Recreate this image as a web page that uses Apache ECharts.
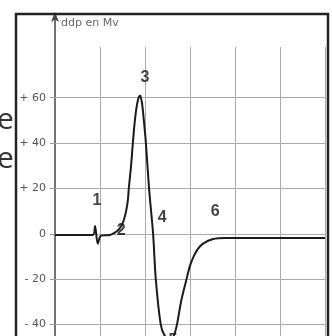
<!DOCTYPE html>
<html lang="fr">
<head>
    <meta charset="UTF-8">
    <title>Potentiel d'action</title>
    <style>
        html, body {
            margin: 0;
            padding: 0;
            background: #fff;
            overflow: hidden;
        }
        #chart {
            width: 332px;
            height: 370px;
        }
    </style>
    <script src="https://cdn.jsdelivr.net/npm/echarts@6/dist/echarts.min.js"></script>
</head>
<body>
    <div id="chart"></div>
    <script>
        // temps (unités de grille) et ddp (mV)
        const times = [0, 0.84, 0.89, 0.95, 1.02, 1.22, 1.33, 1.42, 1.51, 1.58, 1.62, 1.64, 1.69, 1.73, 1.77, 1.81, 1.85, 1.89, 1.93, 1.96, 2.02, 2.09, 2.18, 2.24, 2.35, 2.44, 2.56, 2.64, 2.71, 2.8, 2.91, 3.0, 3.09, 3.18, 3.29, 3.51, 3.78, 6];
        const ddp = [-0.5, -0.5, 3.5, -4.4, -0.8, -0.5, 0.5, 2, 5, 10, 15, 20, 30, 40, 49, 55.5, 59.5, 61, 58, 53, 40, 20, 0, -20, -40, -45, -47, -45, -40, -30, -21, -14, -9.6, -6.5, -4.3, -2.3, -1.8, -1.8];

        const yTicks = [-40, -20, 0, 20, 40, 60];
        const xGrid = [1, 2, 3, 4, 5, 6];

        // repères numérotés
        const phaseNames = ['1', '2', '3', '4', '5', '6'];
        const phaseX = [0.93, 1.47, 2.0, 2.38, 2.62, 3.56];
        const phaseY = [14.6, 1.3, 68.8, 7, -47, 9.7];

        const yMin = -60, yMax = 96, gridTop = 82.3;

        function tickText(v) {
            if (v > 0) return '+ ' + v;
            if (v < 0) return '- ' + (-v);
            return '0';
        }

        const gridLines = [];
        xGrid.forEach(x => gridLines.push([{ coord: [x, yMin] }, { coord: [x, gridTop] }]));
        yTicks.forEach(y => gridLines.push([{ coord: [0, y] }, { coord: [6, y] }]));

        const chart = echarts.init(document.getElementById('chart'));
        chart.setOption({
            animation: false,
            grid: { left: 55, right: 7, top: 16, bottom: 0 },
            xAxis: {
                type: 'value',
                min: 0,
                max: 6,
                show: false
            },
            yAxis: {
                type: 'value',
                min: yMin,
                max: yMax,
                axisLine: {
                    show: true,
                    symbol: ['none', 'arrow'],
                    symbolSize: [6, 10],
                    symbolOffset: [0, 4],
                    lineStyle: { color: '#444', width: 1.5 }
                },
                axisTick: {
                    show: true,
                    customValues: yTicks,
                    length: 5,
                    lineStyle: { color: '#999' }
                },
                axisLabel: {
                    customValues: yTicks,
                    formatter: tickText,
                    color: '#555',
                    fontSize: 11,
                    fontFamily: 'DejaVu Sans',
                    margin: 9
                },
                splitLine: { show: false }
            },
            graphic: [
                {
                    type: 'rect',
                    shape: { x: 16, y: 14, width: 312, height: 400 },
                    style: { fill: 'none', stroke: '#222', lineWidth: 2.5 },
                    z: 10
                },
                {
                    type: 'text',
                    left: 61,
                    top: 18,
                    style: { text: 'ddp en Mv', fill: '#666', font: '11px "DejaVu Sans"' }
                },
                {
                    type: 'text',
                    left: -3,
                    top: 105,
                    style: { text: 'e', fill: '#333', font: '30px "Open Sans"' }
                },
                {
                    type: 'text',
                    left: -3,
                    top: 144,
                    style: { text: 'e', fill: '#333', font: '30px "Open Sans"' }
                }
            ],
            series: [
                {
                    name: 'grille',
                    type: 'line',
                    data: [],
                    silent: true,
                    markLine: {
                        silent: true,
                        symbol: 'none',
                        z: 1,
                        animation: false,
                        label: { show: false },
                        lineStyle: { color: '#aaa', width: 1, type: 'solid' },
                        data: gridLines
                    }
                },
                {
                    name: 'ddp',
                    type: 'line',
                    data: times.map((t, i) => [t, ddp[i]]),
                    smooth: 0.3,
                    showSymbol: false,
                    z: 3,
                    lineStyle: { color: '#1a1a1a', width: 2 }
                },
                {
                    name: 'phases',
                    type: 'scatter',
                    symbolSize: 0,
                    z: 4,
                    data: phaseNames.map((n, i) => [phaseX[i], phaseY[i], n]),
                    label: {
                        show: true,
                        position: 'inside',
                        formatter: p => p.value[2],
                        color: '#111',
                        fontSize: 16,
                        fontWeight: 'bold',
                        fontFamily: 'Liberation Sans'
                    }
                }
            ]
        });
    </script>
</body>
</html>
